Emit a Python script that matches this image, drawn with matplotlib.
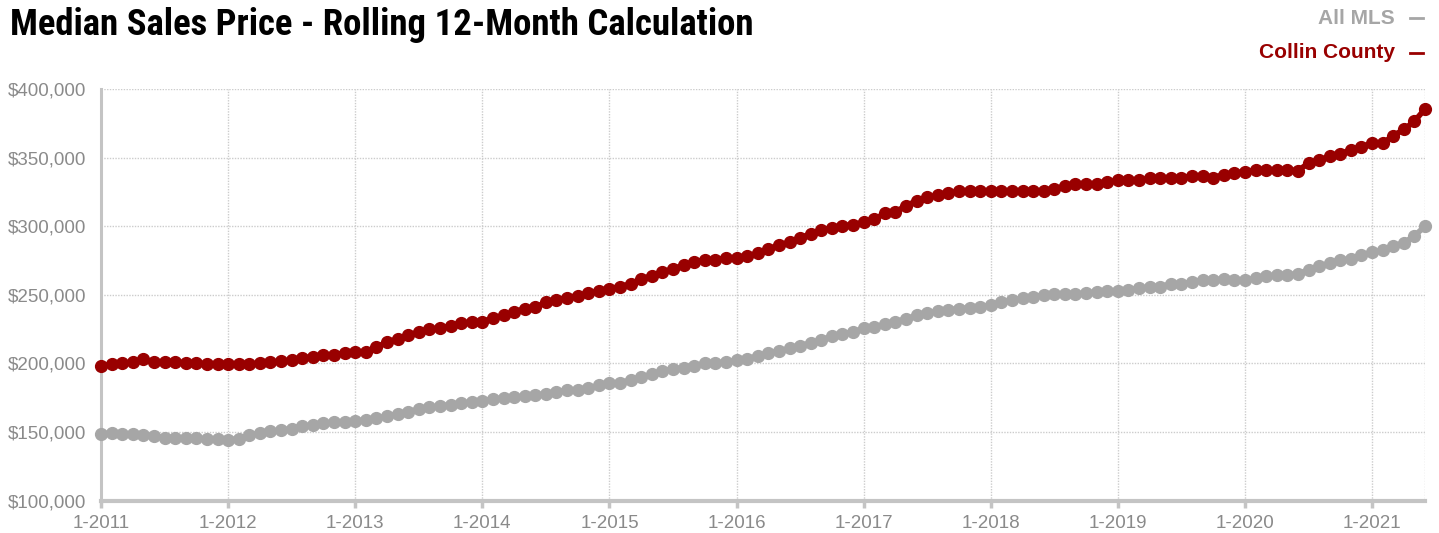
import matplotlib
matplotlib.use("Agg")
import matplotlib.pyplot as plt
from matplotlib import font_manager
import numpy as np

# monthly, 1-2011 .. 6-2021 (values in $1,000)
collin = [198, 199.5, 200, 201, 203, 201, 201, 201, 200.5, 200.5, 199.5, 199.5,
          199.5, 199.5, 199.5, 200, 201, 201.5, 202.5, 204, 205, 206, 206.5, 207.5,
          208.5, 208.5, 212, 215.5, 218, 220.5, 223, 225, 225.5, 227.5, 229.5, 230,
          230.5, 233, 235, 237.5, 240, 241, 244.5, 246.5, 248, 249.5, 251, 253,
          254.5, 256, 258, 261.5, 264, 266.5, 269, 271.5, 274, 275.5, 275.5, 277,
          276.5, 278, 280.5, 283.5, 286, 288.5, 291.5, 294.5, 297, 299, 300.5, 301,
          303, 305, 309.5, 310.5, 315, 318.5, 321, 322.5, 324, 325.5, 325.5, 325.5,
          325.5, 325.5, 325.5, 325.5, 325.5, 326, 327.5, 329, 330.5, 330.5, 330.5, 332,
          333.5, 333.5, 333.5, 335, 335, 335, 335.5, 336.5, 336.5, 335.5, 337.5, 339,
          339.5, 341, 341, 341, 341, 340.5, 346, 348, 351, 353, 355.5, 358,
          360.5, 360.5, 366, 370.5, 376.5, 385.5]
all_mls = [148.5, 149.5, 148.5, 148.5, 148, 147, 146, 146, 145.5, 145.5, 145, 145,
           144.5, 145, 148, 149, 150.5, 151.5, 152.5, 154.5, 155, 156.5, 157, 157.5,
           158, 159, 160, 161.5, 163.5, 165, 166.5, 168, 169, 170, 171, 172,
           173, 174, 175, 175.5, 176, 177, 178, 179.5, 180.5, 181, 182, 184,
           185.5, 186, 188, 190, 192, 194.5, 196, 197, 198.5, 200, 200.5, 201,
           202.5, 203.5, 205.5, 207.5, 209, 211, 213, 215, 217, 220, 221.5, 223,
           225.5, 226.5, 228.5, 230.5, 232.5, 235, 236.5, 238, 239, 240, 240.5, 241,
           242.5, 245, 246, 247.5, 248.5, 250, 250.5, 250.5, 250.5, 251.5, 252, 253,
           253, 253.5, 255, 255.5, 256, 258, 258, 259.5, 261, 261, 261.5, 260.5,
           260.5, 262, 263.5, 264.5, 264.5, 265.5, 268, 271, 273, 275.5, 276, 279,
           281, 282.5, 285.5, 288, 293, 300]
tick_labels = ["1-%d" % y for y in range(2011, 2022)]

red = "#990000"
grey = "#a6a6a6"

# the title is a condensed bold face; use a narrow family if one is installed
installed = {f.name for f in font_manager.fontManager.ttflist}
title_font, title_size = "Liberation Sans", 23
for name in ["Liberation Sans Narrow", "Roboto Condensed", "Open Sans Condensed"]:
    if name in installed:
        title_font, title_size = name, 26.5
        break

x = np.arange(len(collin))
collin_v = np.array(collin) * 1000
mls_v = np.array(all_mls) * 1000

fig = plt.figure(figsize=(14.39, 5.33), dpi=100)
ax = fig.add_axes([0.0702, 0.0606, 0.9201, 0.7724])

ax.plot(x, mls_v, color=grey, lw=4, marker="o", ms=8.5, zorder=3, clip_on=False)
ax.plot(x, collin_v, color=red, lw=4, marker="o", ms=8.5, zorder=4, clip_on=False)

ax.set_xlim(0, len(collin) - 1)
ax.set_ylim(100000, 400000)
ax.set_yticks(np.arange(100000, 400001, 50000))
ax.set_yticklabels(["${:,.0f}".format(v) for v in np.arange(100000, 400001, 50000)])
ax.set_xticks(np.arange(0, len(collin), 12))
ax.set_xticklabels(tick_labels)

ax.grid(True, color="#cccccc", ls=(0, (1, 1)), lw=1)
ax.axvline(len(collin) - 1, color="#cccccc", ls=(0, (1, 1)), lw=1)

for s in ["top", "right"]:
    ax.spines[s].set_visible(False)
ax.spines["left"].set_color("#c4c4c4")
ax.spines["left"].set_linewidth(2.2)
ax.spines["bottom"].set_color("#c4c4c4")
ax.spines["bottom"].set_linewidth(3)

ax.tick_params(axis="y", length=0, pad=10.5, labelsize=13.5, labelcolor="#8a8a8a")
ax.tick_params(axis="x", length=5, width=2.5, color="#c4c4c4", pad=5,
               labelsize=13.5, labelcolor="#8a8a8a")
for lab in ax.get_xticklabels() + ax.get_yticklabels():
    lab.set_family(["Liberation Sans", "DejaVu Sans"])

fig.text(0.007, 0.953, "Median Sales Price - Rolling 12-Month Calculation",
         fontsize=title_size, fontweight="bold", va="center", ha="left",
         family=[title_font, "Liberation Sans", "DejaVu Sans"])

fig.text(0.9695, 0.966, "All MLS", color=grey, fontsize=15, fontweight="bold",
         ha="right", va="center", family=["Liberation Sans", "DejaVu Sans"])
fig.text(0.9695, 0.901, "Collin County", color=red, fontsize=15, fontweight="bold",
         ha="right", va="center", family=["Liberation Sans", "DejaVu Sans"])
fig.lines.append(plt.Line2D([0.98, 0.989], [0.966, 0.966], color=grey, lw=2,
                            transform=fig.transFigure, figure=fig))
fig.lines.append(plt.Line2D([0.98, 0.989], [0.901, 0.901], color=red, lw=2,
                            transform=fig.transFigure, figure=fig))

fig.savefig("out.png", dpi=100)
